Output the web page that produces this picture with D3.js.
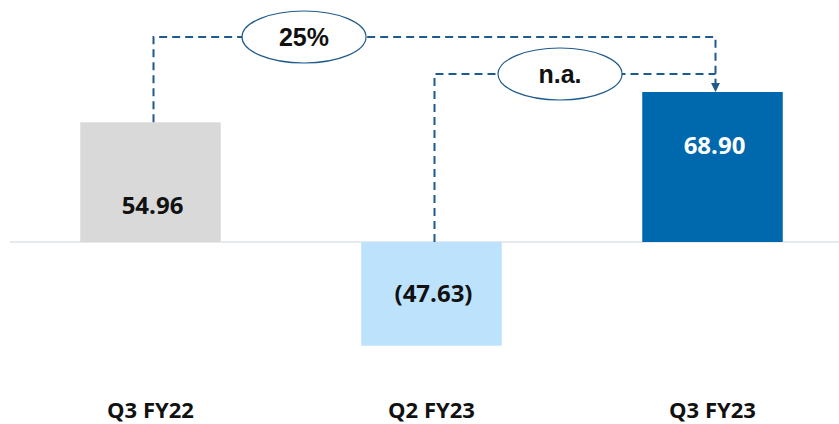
<!DOCTYPE html>
<html>
<head>
<meta charset="utf-8">
<script src="https://cdn.jsdelivr.net/npm/d3@7"></script>
<style>
  body { margin: 0; background: #fff; }
  svg { display: block; }
</style>
</head>
<body>
<svg width="839" height="424"></svg>
<script>
const categories = ["Q3 FY22", "Q2 FY23", "Q3 FY23"];
const values = [54.96, -47.63, 68.90];
const valueLabels = ["54.96", "(47.63)", "68.90"];
const barColors = ["#d9d9d9", "#bde3fc", "#0068ad"];
const labelColors = ["#111", "#111", "#fff"];
// growth bubbles: from bar -> to bar, text
const growth = [
  { from: "Q3 FY22", to: "Q3 FY23", text: "25%", level: 37, bubbleX: 304 },
  { from: "Q2 FY23", to: "Q3 FY23", text: "n.a.", level: 74, bubbleX: 560 }
];

const svg = d3.select("svg");
const width = +svg.attr("width");

const x = d3.scaleBand().domain(categories).range([10, 853]).paddingInner(0.5).paddingOuter(0.25);
const y = d3.scaleLinear().domain([0, 68.9]).range([242, 92]);

const data = categories.map((c, i) => ({ cat: c, value: values[i], label: valueLabels[i], color: barColors[i], tc: labelColors[i] }));

// baseline
svg.append("line")
  .attr("x1", 10).attr("x2", width)
  .attr("y1", y(0)).attr("y2", y(0))
  .attr("stroke", "#dde3ea").attr("stroke-width", 1.5);

svg.selectAll("rect.bar")
  .data(data)
  .join("rect")
  .attr("class", "bar")
  .attr("x", d => x(d.cat))
  .attr("width", x.bandwidth())
  .attr("y", d => y(Math.max(0, d.value)))
  .attr("height", d => Math.abs(y(d.value) - y(0)))
  .attr("fill", d => d.color);

// value labels: grey bar near bottom, blue bar near top, negative in middle
const labelY = d => {
  if (d.value < 0) return (y(0) + y(d.value)) / 2;
  if (d.color === "#0068ad") return y(d.value) + 53;
  return y(0) - 37;
};
svg.selectAll("text.val")
  .data(data)
  .join("text")
  .attr("class", "val")
  .attr("x", d => x(d.cat) + x.bandwidth() / 2 + 2)
  .attr("y", labelY)
  .attr("dy", "0.36em")
  .attr("text-anchor", "middle")
  .attr("font-family", "'Open Sans', sans-serif")
  .attr("font-weight", 700)
  .attr("font-size", 24)
  .attr("fill", d => d.tc)
  .text(d => d.label);

svg.selectAll("text.cat")
  .data(categories)
  .join("text")
  .attr("class", "cat")
  .attr("x", d => x(d) + x.bandwidth() / 2)
  .attr("y", 410)
  .attr("dy", "0.35em")
  .attr("text-anchor", "middle")
  .attr("font-family", "'Open Sans', sans-serif")
  .attr("font-weight", 700)
  .attr("font-size", 22)
  .attr("fill", "#111")
  .text(d => d);

// connectors
const lineColor = "#1f5a8c";
svg.append("defs").append("marker")
  .attr("id", "arrow")
  .attr("viewBox", "0 0 10 10")
  .attr("refX", 9).attr("refY", 5)
  .attr("markerWidth", 4.5).attr("markerHeight", 4.5)
  .attr("orient", "auto")
  .append("path")
  .attr("d", "M0,0L10,5L0,10Z")
  .attr("fill", lineColor);

const valueOf = c => values[categories.indexOf(c)];
const cx = c => x(c) + x.bandwidth() / 2 + 3;

growth.forEach((gr, i) => {
  const x0 = cx(gr.from);
  const x1 = cx(gr.to);
  const yStart = y(Math.max(0, valueOf(gr.from)));
  const pts = [[x0, yStart], [x0, gr.level], [x1, gr.level]];
  if (i === 0) pts.push([x1, y(valueOf(gr.to)) - 1]);
  const p = svg.append("path")
    .attr("d", d3.line()(pts))
    .attr("fill", "none")
    .attr("stroke", lineColor)
    .attr("stroke-width", 2)
    .attr("stroke-dasharray", "8,5");
  if (i === 0) p.attr("marker-end", "url(#arrow)");

  svg.append("ellipse")
    .attr("cx", gr.bubbleX).attr("cy", gr.level)
    .attr("rx", 62).attr("ry", 26)
    .attr("fill", "#fff")
    .attr("stroke", lineColor)
    .attr("stroke-width", 1.2);
  svg.append("text")
    .attr("x", gr.bubbleX).attr("y", gr.level)
    .attr("dy", "0.36em")
    .attr("text-anchor", "middle")
    .attr("font-family", "'Liberation Sans', Arial, sans-serif")
    .attr("font-weight", 700)
    .attr("font-size", 25)
    .attr("fill", "#111")
    .text(gr.text);
});
</script>
</body>
</html>
